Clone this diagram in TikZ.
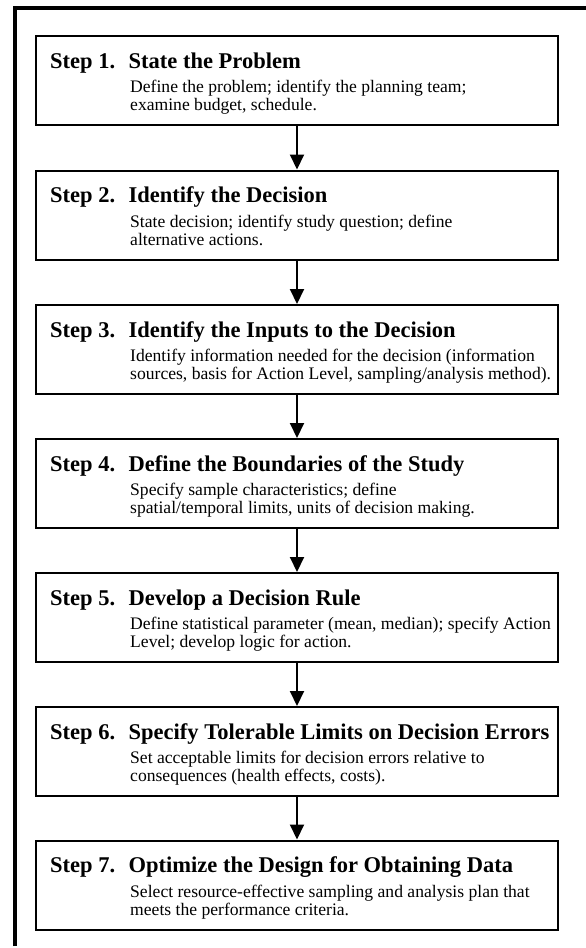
\documentclass[tikz,border=0pt]{standalone}
\usepackage{fontspec}
\setmainfont{Liberation Serif}
\usetikzlibrary{arrows.meta}
\tikzset{
  boxstyle/.style={draw=black, line width=2pt, minimum width=522pt, minimum height=89pt, inner sep=0pt, anchor=north west},
  titlestyle/.style={anchor=base west, inner sep=0pt, font=\fontsize{22.5}{26}\selectfont\bfseries},
  bodystyle/.style={anchor=base west, inner sep=0pt, font=\fontsize{17.6}{20}\selectfont},
  flowarrow/.style={line width=2pt, -{Triangle[width=14pt,length=15pt]}},
}
\newcommand\mkstep[5]{%
  \node[boxstyle] (b#1) at (35,#2) {};
  \node[titlestyle] (t#1) at ([xshift=15pt,yshift=-33pt]b#1.north west) {#3};
  \node[bodystyle] (la#1) at ([xshift=95pt,yshift=-57.5pt]b#1.north west) {#4};
  \node[bodystyle] (lb#1) at ([xshift=95pt,yshift=-75.5pt]b#1.north west) {#5};
}
\begin{document}
\begin{tikzpicture}[x=1pt,y=-1pt]
\useasboundingbox (0,0) rectangle (586,948);
\draw[line width=4pt] (14.5,946) -- (14.5,7.5) -- (590,7.5);
\mkstep{1}{35}{Step 1.\hspace{0.6em}State the Problem}{Define the problem; identify the planning team;}{examine budget, schedule.}
\mkstep{2}{169.5}{Step 2.\hspace{0.6em}Identify the Decision}{State decision; identify study question; define}{alternative actions.}
\mkstep{3}{304}{Step 3.\hspace{0.6em}Identify the Inputs to the Decision}{Identify information needed for the decision (information}{sources, basis for Action Level, sampling/analysis method).}
\mkstep{4}{438}{Step 4.\hspace{0.6em}Define the Boundaries of the Study}{Specify sample characteristics; define}{spatial/temporal limits, units of decision making.}
\mkstep{5}{572}{Step 5.\hspace{0.6em}Develop a Decision Rule}{Define statistical parameter (mean, median); specify Action}{Level; develop logic for action.}
\mkstep{6}{706}{Step 6.\hspace{0.6em}Specify Tolerable Limits on Decision Errors}{Set acceptable limits for decision errors relative to}{consequences (health effects, costs).}
\mkstep{7}{839.5}{Step 7.\hspace{0.6em}Optimize the Design for Obtaining Data}{Select resource-effective sampling and analysis plan that}{meets the performance criteria.}
\foreach \i/\j in {1/2,2/3,3/4,4/5,5/6,6/7}
  \draw[flowarrow] (b\i.south) -- (b\j.north);
\end{tikzpicture}
\end{document}
